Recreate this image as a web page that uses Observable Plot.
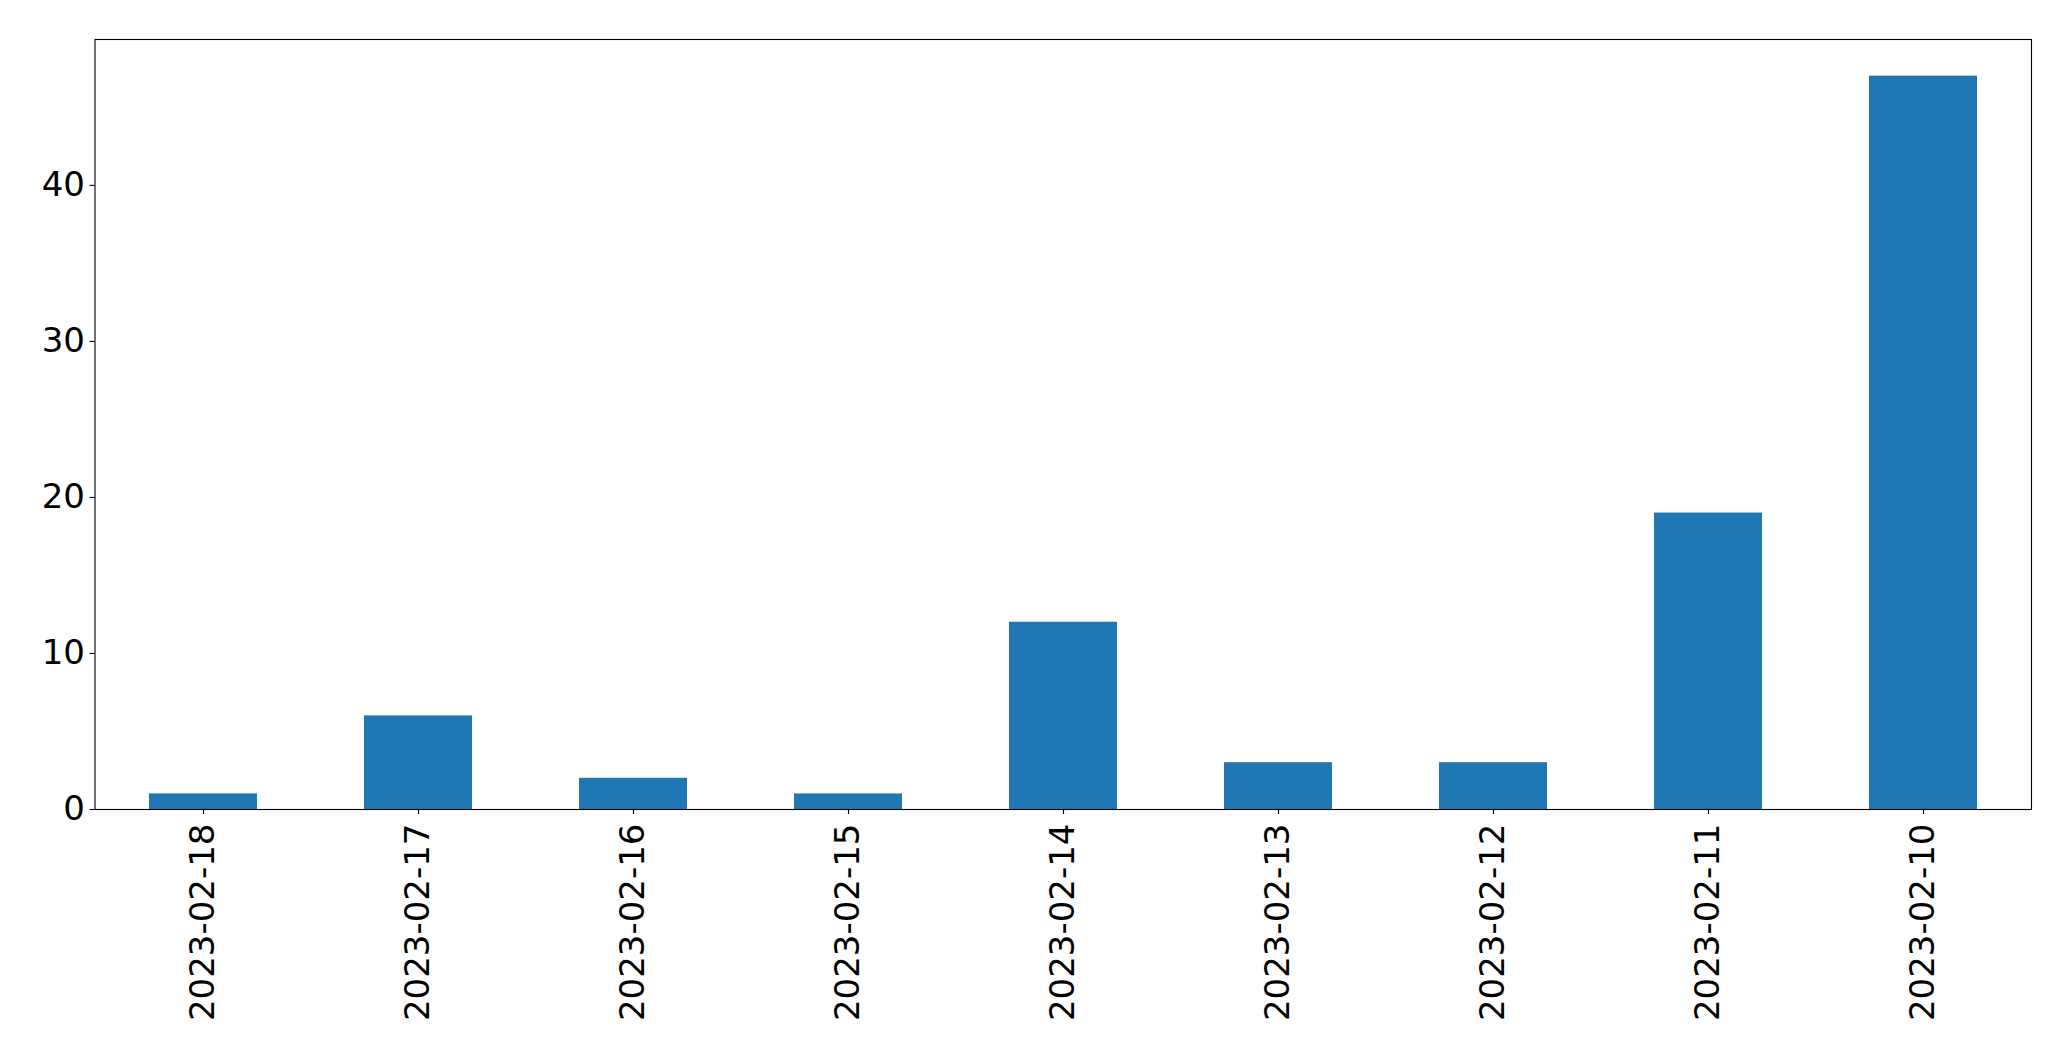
<!DOCTYPE html>
<html>
<head>
<meta charset="utf-8">
<script src="https://cdn.jsdelivr.net/npm/d3@7"></script>
<script src="https://cdn.jsdelivr.net/npm/@observablehq/plot@0.6"></script>
<style>
  html, body { margin: 0; padding: 0; background: #fff; overflow: hidden; }
  #chart svg { display: block; }
</style>
</head>
<body>
<div id="chart"></div>
<script>
const dates = ["2023-02-18","2023-02-17","2023-02-16","2023-02-15","2023-02-14","2023-02-13","2023-02-12","2023-02-11","2023-02-10"];
const counts = [1, 6, 2, 1, 12, 3, 3, 19, 47];
const yTicks = [0, 10, 20, 30, 40];

const data = dates.map((d, i) => ({date: d, count: counts[i]}));

const chart = Plot.plot({
  width: 2071,
  height: 1061,
  marginLeft: 94.5,
  marginRight: 40,
  marginTop: 39,
  marginBottom: 252,
  style: {fontFamily: "DejaVu Sans", color: "black", background: "white", overflow: "visible"},
  x: {domain: dates, paddingInner: 0.5, paddingOuter: 0.25, label: null},
  y: {domain: [0, 47 * 1.05], label: null},
  marks: [
    Plot.barY(data, {x: "date", y: "count", fill: "#1f77b4"}),
    Plot.frame({stroke: "black", strokeWidth: 1.1}),
    Plot.axisY({ticks: yTicks, tickSize: 5, tickPadding: 5, fontSize: 34, label: null, strokeWidth: 1.1}),
    Plot.axisX({tickRotate: -90, tickSize: 5, tickPadding: 9, fontSize: 34, label: null, strokeWidth: 1.1})
  ]
});
document.getElementById("chart").appendChild(chart);
</script>
</body>
</html>
